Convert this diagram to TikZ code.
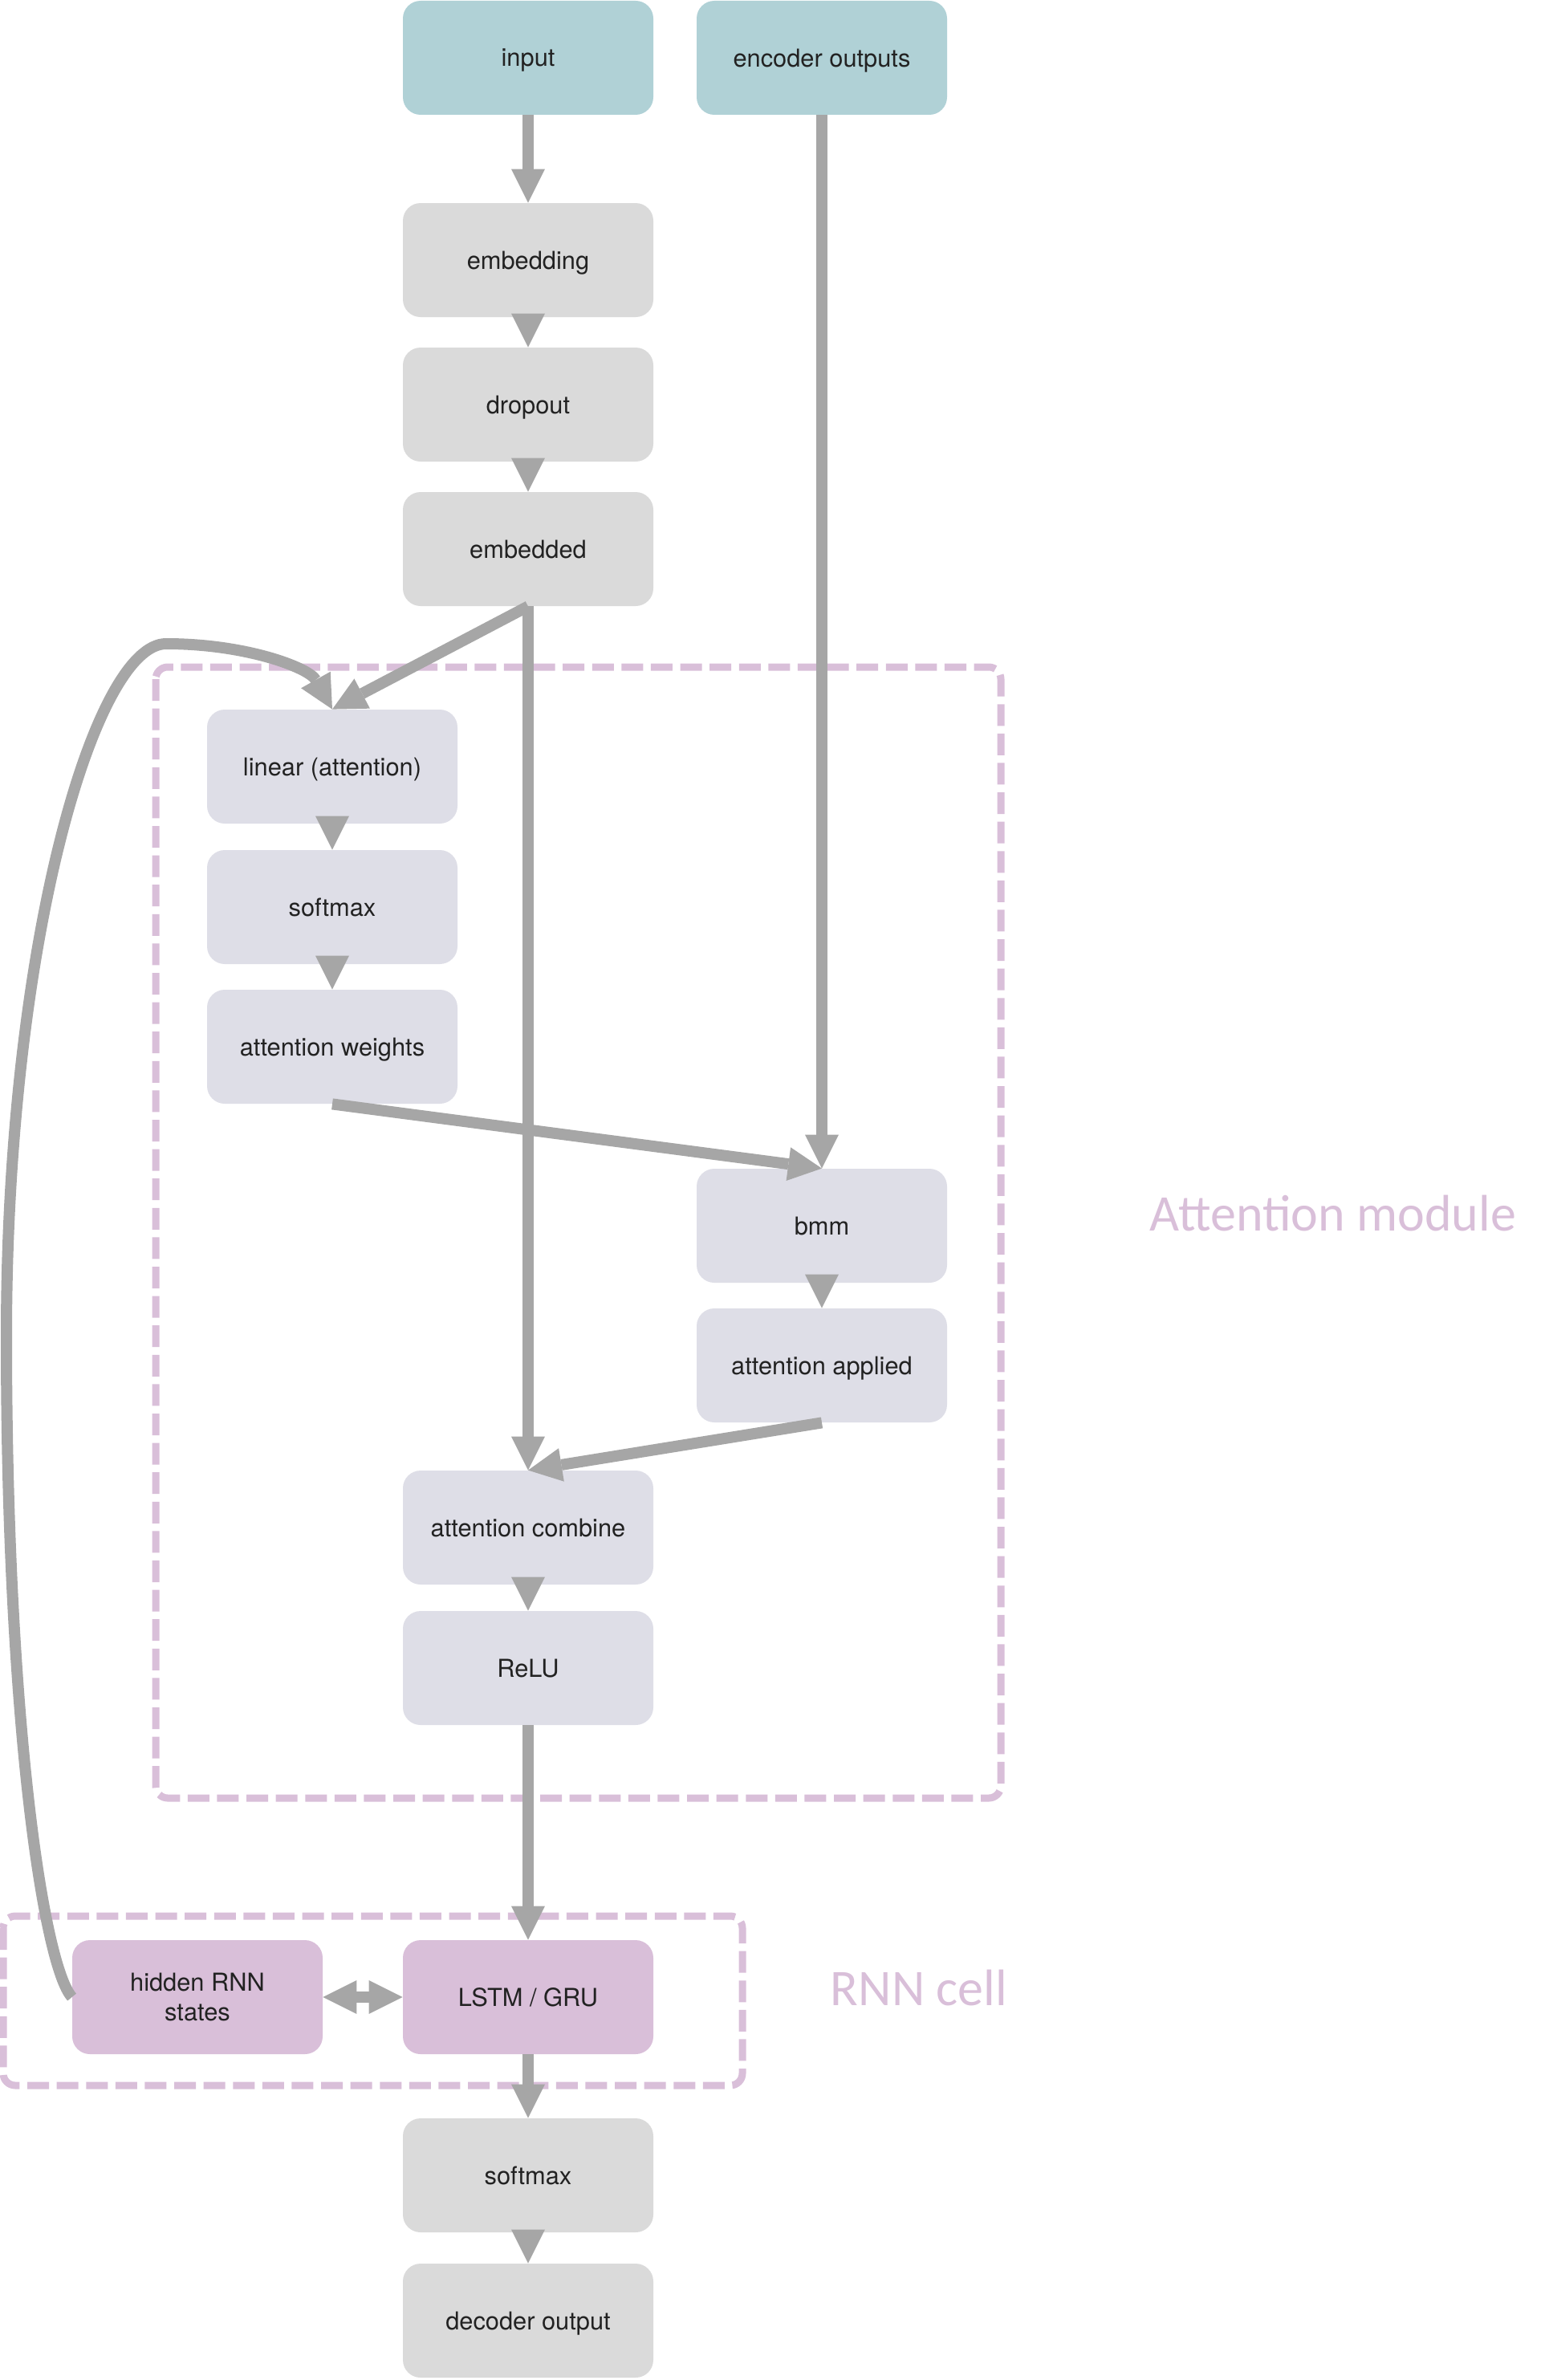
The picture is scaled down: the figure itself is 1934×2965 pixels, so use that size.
\documentclass[tikz,border=0pt]{standalone}
\usepackage{fontspec}
\setmainfont{TeX Gyre Heros}
\newfontfamily\labelfont{Carlito}
\usetikzlibrary{arrows.meta}
\definecolor{inputteal}{HTML}{B0D1D6}
\definecolor{boxgray}{HTML}{DADADA}
\definecolor{attnlav}{HTML}{DEDEE7}
\definecolor{rnnpink}{HTML}{D9BFD9}
\definecolor{arrowgray}{HTML}{A6A6A6}
\definecolor{textdark}{HTML}{222222}
\tikzset{
    block/.style={rounded corners=11pt, minimum width=156pt, minimum height=71pt,
        inner sep=0pt, align=center, text depth=0pt, text=textdark,
        font=\fontsize{15.4}{18.5}\selectfont},
    flow/.style={->, >={Triangle[length=21pt,width=21pt,line width=0pt]},
        line width=7pt, draw=arrowgray},
    group/.style={draw=rnnpink, line width=4.5pt, dash pattern=on 13.5pt off 4.8pt,
        rounded corners=7.5pt},
    grouplabel/.style={anchor=base, text=rnnpink, font=\labelfont\fontsize{32}{38}\selectfont}}
\def\colA{658}
\def\colB{1024}
\def\colL{414}
\def\colH{246}

\begin{document}
\begin{tikzpicture}[x=0.5pt,y=0.5pt,yscale=-1,xscale=1]
            \useasboundingbox (0,0) rectangle (1934,2965);

            %Groups
            \draw [group] (194,831) rectangle (1247,2240);
            \draw [group] (4,2387) rectangle (925,2598);
            \node [grouplabel] (attnlabel) at (1661,1533) {Attention module};
            \node [grouplabel] (rnnlabel) at (1145,2498) {RNN cell};

            %Inputs
            \node [block, fill=inputteal] (input) at (\colA,72) {input};
            \node [block, fill=inputteal] (encoder) at (\colB,72) {encoder outputs};

            %Embedding
            \node [block, fill=boxgray] (embedding) at (\colA,324) {embedding};
            \node [block, fill=boxgray] (dropout) at (\colA,504) {dropout};
            \node [block, fill=boxgray] (embedded) at (\colA,684) {embedded};

            %Attention
            \node [block, fill=attnlav] (linear) at (\colL,955) {linear (attention)};
            \node [block, fill=attnlav] (softmax) at (\colL,1130) {softmax};
            \node [block, fill=attnlav] (weights) at (\colL,1304) {attention weights};
            \node [block, fill=attnlav] (bmm) at (\colB,1527) {bmm};
            \node [block, fill=attnlav] (applied) at (\colB,1701) {attention applied};
            \node [block, fill=attnlav] (combine) at (\colA,1903) {attention combine};
            \node [block, fill=attnlav] (relu) at (\colA,2078) {ReLU};

            %RNN
            \node [block, fill=rnnpink, text depth={}] (hidden) at (\colH,2488) {hidden RNN\\states};
            \node [block, fill=rnnpink] (lstm) at (\colA,2488) {LSTM / GRU};

            %Output
            \node [block, fill=boxgray] (softmaxout) at (\colA,2710) {softmax};
            \node [block, fill=boxgray] (decoder) at (\colA,2891) {decoder output};

            %Arrows
            \draw [flow] (input) -- (embedding);
            \draw [flow] (embedding) -- (dropout);
            \draw [flow] (dropout) -- (embedded);
            \draw [flow] (embedded.south) -- (linear.north);
            \draw [flow] (embedded.south) -- (combine.north);
            \draw [flow] (encoder) -- (bmm);
            \draw [flow] (linear) -- (softmax);
            \draw [flow] (softmax) -- (weights);
            \draw [flow] (weights.south) -- (bmm.north);
            \draw [flow] (bmm) -- (applied);
            \draw [flow] (applied.south) -- (combine.north);
            \draw [flow] (combine) -- (relu);
            \draw [flow] (relu) -- (lstm);
            \draw [flow, <->] (hidden) -- (lstm);
            \draw [flow] (lstm) -- (softmaxout);
            \draw [flow] (softmaxout) -- (decoder);
            %Hidden state loop
            \draw [flow] (hidden.west) .. controls (55,2450) and (8,2150) .. (8,1665)
                .. controls (8,1176) and (118,802) .. (207,802)
                .. controls (307,802) and (385,832) .. (linear.north);
\end{tikzpicture}
\end{document}
